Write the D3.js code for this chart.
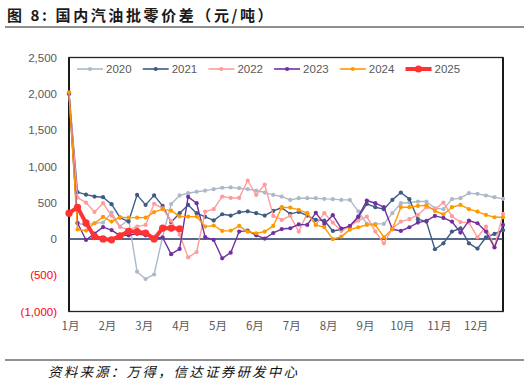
<!DOCTYPE html>
<html><head><meta charset="utf-8">
<script src="https://cdn.jsdelivr.net/npm/d3@7"></script>
<style>
body{margin:0;background:#fff;}
svg{display:block;font-family:"Liberation Sans",Arial,sans-serif;}
</style></head>
<body><svg id="c" width="529" height="385"></svg>
<script>
const title = "图 8:  国内汽油批零价差（元/吨）";
const source = "资料来源：万得，信达证券研发中心";
const months = ["1月","2月","3月","4月","5月","6月","7月","8月","9月","10月","11月","12月"];
const yTicks = [2500,2000,1500,1000,500,0,-500,-1000];
const seriesNames = ["2020","2021","2022","2023","2024","2025"];

const v2020 = [2010,216,190,216,225,363,170,272,-451,-552,-490,30,480,600,630,650,665,686,705,710,699,686,667,639,607,584,538,561,561,561,552,548,538,538,380,207,207,207,355,492,501,515,515,423,410,548,561,630,621,598,575,552];
const v2021 = [2000,644,610,584,575,479,294,239,607,469,600,455,230,355,469,355,305,255,340,322,368,380,355,322,386,430,345,372,322,262,253,110,130,170,300,483,437,410,538,639,548,272,239,-142,-60,101,147,-60,-133,23,69,120];
const v2022 = [2000,570,500,372,492,320,165,124,170,193,485,420,250,60,-255,-180,377,410,584,565,565,805,607,750,317,262,317,101,355,193,355,225,110,179,253,308,101,-60,147,239,272,331,437,410,501,313,232,225,23,170,-110,345];
const v2023 = [2000,220,-14,75,163,122,45,50,70,50,15,20,-210,-138,580,492,25,-14,-267,-189,101,115,50,5,82,136,147,200,193,360,207,327,143,177,310,529,492,437,134,110,161,225,248,317,290,239,87,253,216,101,-118,193];
const v2024 = [2020,130,115,216,304,239,299,294,294,294,370,410,390,310,308,308,170,185,110,115,179,101,78,101,179,437,432,400,355,193,161,-4,32,128,161,193,193,23,134,437,437,455,465,385,340,437,469,410,377,331,299,299];
const v2025 = [355,435,220,32,0,-12,44,105,100,82,0,148,150,140];

const colors = ["#ADB9CA","#3E5B84","#FF9B9B","#7030A0","#FF9900","#FF3333"];
const data = [v2020,v2021,v2022,v2023,v2024,v2025];

const svg = d3.select("#c");
const L = 69, R = 503, T = 57.5, B = 311.5;
const x = d3.scaleLinear().domain([0,51]).range([L,R]);
const y = d3.scaleLinear().domain([-1000,2500]).range([B,T]);

// title
svg.append("text").attr("x",7).attr("y",21).attr("font-size",15).attr("font-weight","bold")
  .attr("fill","#1a1a1a").attr("letter-spacing",2.6)
  .style("font-family","'Noto Sans CJK SC','Liberation Sans',sans-serif").text(title);
svg.append("line").attr("x1",5).attr("x2",524).attr("y1",27).attr("y2",27).attr("stroke","#222").attr("stroke-width",1.2);

// frame
svg.append("rect").attr("x",L).attr("y",T).attr("width",R-L).attr("height",B-T)
  .attr("fill","none").attr("stroke","#222").attr("stroke-width",1.3);
svg.append("line").attr("x1",L).attr("x2",L).attr("y1",T).attr("y2",B).attr("stroke","#111").attr("stroke-width",1.8);
svg.append("line").attr("x1",R).attr("x2",R).attr("y1",T).attr("y2",B).attr("stroke","#111").attr("stroke-width",1.8);

// y axis labels
const yAxis = d3.axisLeft(y).tickValues(yTicks).tickSize(0).tickPadding(12)
  .tickFormat(d => d < 0 ? "(" + d3.format(",")(-d) + ")" : d3.format(",")(d));
const ya = svg.append("g").attr("transform",`translate(${L},0)`).call(yAxis);
ya.select(".domain").remove();
ya.selectAll("text").attr("font-size",11.5).attr("fill",d => d<0 ? "#FF0000" : "#595959")
  .style("font-family","'Liberation Sans',Arial,sans-serif");

// x axis labels
const xm = d3.scaleLinear().domain([0,12]).range([x(0)+1, x(52)+1]);
const xAxis = d3.axisBottom(xm).tickValues(d3.range(12)).tickSize(0).tickPadding(10)
  .tickFormat(i => months[i]);
const xa = svg.append("g").attr("transform",`translate(0,${B})`).call(xAxis);
xa.select(".domain").remove();
xa.selectAll("text").attr("font-size",11.5).attr("fill","#595959")
  .style("font-family","'Noto Sans CJK SC','Liberation Sans',sans-serif");

// zero line
svg.append("line").attr("x1",L).attr("x2",R).attr("y1",y(0)).attr("y2",y(0))
  .attr("stroke","#1F3864").attr("stroke-width",1.6);

// series
const line = d3.line().x((d,i)=>x(i)).y(d=>y(d));
data.forEach((vals,k)=>{
  const isMain = k===5;
  const g = svg.append("g");
  g.append("path").datum(vals).attr("d",line).attr("fill","none")
    .attr("stroke",colors[k]).attr("stroke-width",isMain?4:1.4).attr("stroke-linejoin","round");
  g.selectAll("circle").data(vals).enter().append("circle")
    .attr("cx",(d,i)=>x(i)).attr("cy",d=>y(d)).attr("r",isMain?3.6:2.1).attr("fill",colors[k]);
});

// legend
const legX0 = 77, legStep = 65.7, legY = 69;
seriesNames.forEach((n,k)=>{
  const lx = legX0 + k*legStep;
  const isMain = k===5;
  svg.append("line").attr("x1",lx).attr("x2",lx+26).attr("y1",legY).attr("y2",legY)
    .attr("stroke",colors[k]).attr("stroke-width",isMain?4:1.6);
  svg.append("circle").attr("cx",lx+13).attr("cy",legY).attr("r",isMain?3.6:2.1).attr("fill",colors[k]);
  svg.append("text").attr("x",lx+29).attr("y",legY+4).attr("font-size",11.5).attr("fill","#595959").text(n);
});

// footer
svg.append("line").attr("x1",5).attr("x2",524).attr("y1",360).attr("y2",360).attr("stroke","#222").attr("stroke-width",1.2);
svg.append("text").attr("x",48).attr("y",377).attr("font-size",13.5).attr("font-style","italic")
  .attr("fill","#111").attr("letter-spacing",2.2)
  .style("font-family","'Noto Sans CJK SC',sans-serif").text(source);
</script></body></html>
